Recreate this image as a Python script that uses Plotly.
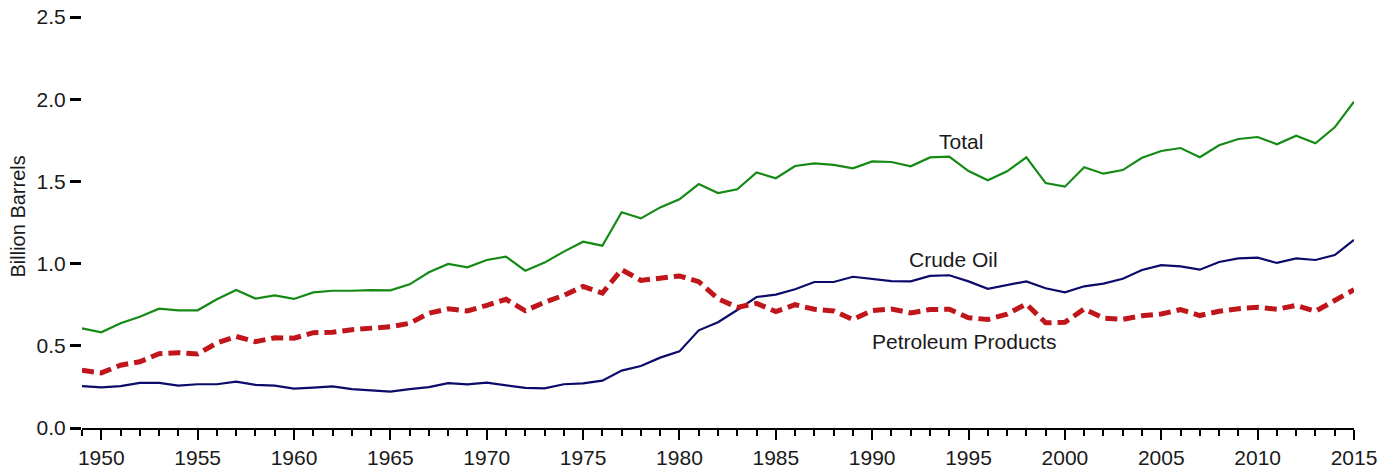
import plotly.graph_objects as go

years = list(range(1949, 2016))

total = [0.606, 0.582, 0.637, 0.677, 0.726, 0.716, 0.716, 0.783, 0.839, 0.787,
         0.807, 0.785, 0.825, 0.835, 0.835, 0.839, 0.837, 0.874, 0.947, 0.998,
         0.977, 1.022, 1.042, 0.957, 1.006, 1.073, 1.133, 1.109, 1.312, 1.275,
         1.342, 1.391, 1.484, 1.429, 1.452, 1.555, 1.519, 1.594, 1.610, 1.600,
         1.580, 1.622, 1.618, 1.592, 1.646, 1.651, 1.563, 1.507, 1.561, 1.646,
         1.490, 1.468, 1.586, 1.547, 1.569, 1.644, 1.685, 1.703, 1.647, 1.720,
         1.758, 1.770, 1.726, 1.778, 1.732, 1.829, 1.985]

crude = [0.255, 0.247, 0.255, 0.274, 0.274, 0.258, 0.266, 0.266, 0.282, 0.262,
         0.258, 0.239, 0.245, 0.253, 0.237, 0.231, 0.221, 0.237, 0.249, 0.273,
         0.265, 0.276, 0.259, 0.244, 0.241, 0.266, 0.272, 0.288, 0.349, 0.377,
         0.428, 0.466, 0.594, 0.643, 0.718, 0.797, 0.811, 0.844, 0.888, 0.888,
         0.920, 0.908, 0.894, 0.892, 0.925, 0.929, 0.892, 0.847, 0.868, 0.892,
         0.850, 0.825, 0.862, 0.878, 0.908, 0.961, 0.991, 0.983, 0.963, 1.010,
         1.032, 1.036, 1.004, 1.032, 1.022, 1.052, 1.144]

products = [0.351, 0.335, 0.382, 0.403, 0.452, 0.458, 0.450, 0.517, 0.557, 0.525,
            0.549, 0.546, 0.580, 0.582, 0.598, 0.608, 0.616, 0.637, 0.698, 0.725,
            0.712, 0.746, 0.783, 0.713, 0.765, 0.807, 0.861, 0.821, 0.963, 0.898,
            0.914, 0.925, 0.890, 0.786, 0.734, 0.758, 0.708, 0.750, 0.722, 0.712,
            0.660, 0.714, 0.724, 0.700, 0.721, 0.722, 0.671, 0.660, 0.693, 0.754,
            0.640, 0.643, 0.724, 0.669, 0.661, 0.683, 0.694, 0.720, 0.684, 0.710,
            0.726, 0.734, 0.722, 0.746, 0.710, 0.777, 0.841]

labels = ["Total", "Crude Oil", "Petroleum Products"]
label_x = [1994.6, 1994.2, 1994.75]
label_y = [1.74, 1.028, 0.529]

x_ticks = list(range(1950, 2016, 5))
y_ticks = [0.0, 0.5, 1.0, 1.5, 2.0, 2.5]

FONT = "Liberation Sans, Arial, sans-serif"
TXT = "#1a1a1a"

fig = go.Figure()
fig.add_trace(go.Scatter(x=years, y=total, mode="lines", name="Total",
                         line=dict(color="#148a14", width=2.2)))
fig.add_trace(go.Scatter(x=years, y=crude, mode="lines", name="Crude Oil",
                         line=dict(color="#0b0b6b", width=2.2)))
fig.add_trace(go.Scatter(x=years, y=products, mode="lines", name="Petroleum Products",
                         line=dict(color="#c0161b", width=5, dash="12px,6px")))

for t, xx, yy in zip(labels, label_x, label_y):
    fig.add_annotation(x=xx, y=yy, text=t, showarrow=False,
                       font=dict(size=21, color=TXT, family=FONT))

fig.add_annotation(xref="paper", yref="paper", x=-0.0505, y=0.514,
                   text="Billion Barrels", textangle=-90, showarrow=False,
                   xanchor="center", yanchor="middle",
                   font=dict(size=20, color=TXT, family=FONT))

fig.update_layout(
    width=1393, height=470,
    margin=dict(l=82, r=39, t=17, b=42, autoexpand=False),
    plot_bgcolor="white", paper_bgcolor="white",
    showlegend=False,
    font=dict(family=FONT, size=21, color=TXT),
)
fig.update_xaxes(
    range=[1949, 2015], tickvals=x_ticks, ticktext=[str(v) for v in x_ticks],
    showgrid=False, zeroline=False, automargin=False,
    showline=True, linecolor="black", linewidth=2,
    ticks="outside", ticklen=10, tickwidth=2, tickcolor="black",
    minor=dict(dtick=1, tick0=1949, ticks="outside", ticklen=6, tickwidth=1.5,
               tickcolor="black", showgrid=False),
    tickfont=dict(size=21, family=FONT, color=TXT),
    ticklabeloverflow="allow",
)
fig.update_yaxes(
    range=[0, 2.5], tickvals=y_ticks, ticktext=[f"{v:.1f}" for v in y_ticks],
    showgrid=False, zeroline=False, showline=False, automargin=False,
    ticks="outside", ticklen=11, tickwidth=2.5, tickcolor="black",
    tickfont=dict(size=21, family=FONT, color=TXT),
    ticklabeloverflow="allow",
)

fig.write_html("out.html",
               config={"displayModeBar": False},
               post_script="document.body.style.margin='0px';document.body.style.padding='0px';")
